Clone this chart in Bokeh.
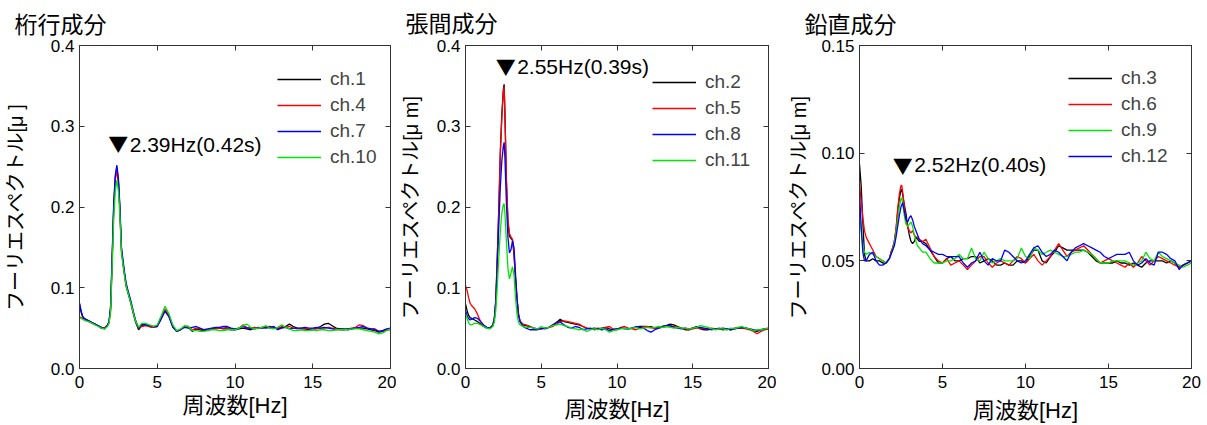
import numpy as np
from bokeh.plotting import figure
from bokeh.models import (Range1d, FixedTicker, PrintfTickFormatter, LinearAxis,
                          Legend, LegendItem, Label)
from bokeh.layouts import row
from bokeh.embed import file_html
from bokeh.resources import INLINE

# ---------------- data ----------------
# frequency samples [Hz]
freq = ([0.0, 0.1, 0.2, 0.3, 0.4, 0.6, 0.8, 1.0, 1.2, 1.4, 1.6, 1.8,
         1.9, 2.0, 2.1, 2.2, 2.3, 2.4, 2.5, 2.55, 2.6, 2.7, 2.8, 2.9,
         3.0, 3.1, 3.2, 3.3, 3.4, 3.5, 3.6, 3.8]
        + [4.0 + 0.25 * i for i in range(65)])

# 桁行成分
ch1 = [0.080, 0.070, 0.064, 0.062, 0.061,
       0.059, 0.057, 0.055, 0.053, 0.050, 0.050, 0.054,
       0.058, 0.074, 0.135, 0.200, 0.236, 0.249, 0.232,
       0.216,
       0.195, 0.146, 0.130, 0.115, 0.102, 0.095, 0.088, 0.081, 0.073, 0.065, 0.058,
       0.048,
       0.053, 0.054, 0.052, 0.051,
       0.053, 0.063, 0.073, 0.065,
       0.052, 0.046, 0.048, 0.052,
       0.051, 0.046, 0.049, 0.048,
       0.047, 0.048, 0.049, 0.050,
       0.050, 0.049, 0.049, 0.048,
       0.048, 0.049, 0.050, 0.049,
       0.048, 0.050, 0.051, 0.050,
       0.051, 0.052, 0.050, 0.049,
       0.051, 0.052, 0.055, 0.052,
       0.050, 0.049, 0.049, 0.048,
       0.048, 0.050, 0.052, 0.055,
       0.056, 0.053, 0.050, 0.049,
       0.049, 0.048, 0.049, 0.050,
       0.050, 0.050, 0.049, 0.048,
       0.047, 0.045, 0.046, 0.048,
       0.049]
ch4 = [0.064, 0.063, 0.062, 0.061, 0.060,
       0.058, 0.056, 0.055, 0.053, 0.051, 0.050, 0.053,
       0.057, 0.072, 0.132, 0.196, 0.233, 0.246, 0.230,
       0.214,
       0.193, 0.146, 0.130, 0.116, 0.103, 0.096, 0.089, 0.082, 0.074, 0.066, 0.059,
       0.050,
       0.052, 0.053, 0.052, 0.051,
       0.052, 0.062, 0.073, 0.066,
       0.052, 0.046, 0.048, 0.052,
       0.052, 0.048, 0.050, 0.049,
       0.048, 0.048, 0.049, 0.049,
       0.050, 0.050, 0.051, 0.049,
       0.048, 0.050, 0.054, 0.051,
       0.050, 0.051, 0.050, 0.051,
       0.052, 0.050, 0.051, 0.050,
       0.052, 0.051, 0.052, 0.050,
       0.049, 0.050, 0.049, 0.049,
       0.049, 0.049, 0.050, 0.050,
       0.051, 0.050, 0.049, 0.048,
       0.048, 0.049, 0.050, 0.051,
       0.054, 0.053, 0.050, 0.049,
       0.048, 0.046, 0.047, 0.048,
       0.048]
ch7 = [0.081, 0.072, 0.065, 0.062, 0.061,
       0.059, 0.057, 0.055, 0.053, 0.051, 0.049, 0.053,
       0.058, 0.078, 0.140, 0.205, 0.239, 0.252, 0.236,
       0.220,
       0.199, 0.150, 0.134, 0.119, 0.106, 0.098, 0.091, 0.084, 0.076, 0.068, 0.060,
       0.050,
       0.055, 0.054, 0.053, 0.052,
       0.052, 0.061, 0.071, 0.064,
       0.051, 0.046, 0.048, 0.051,
       0.050, 0.051, 0.052, 0.050,
       0.048, 0.049, 0.050, 0.051,
       0.051, 0.052, 0.052, 0.050,
       0.049, 0.050, 0.052, 0.050,
       0.050, 0.049, 0.050, 0.051,
       0.050, 0.051, 0.052, 0.048,
       0.050, 0.051, 0.049, 0.050,
       0.050, 0.050, 0.051, 0.050,
       0.050, 0.051, 0.050, 0.051,
       0.050, 0.049, 0.048, 0.049,
       0.048, 0.049, 0.049, 0.050,
       0.051, 0.052, 0.050, 0.049,
       0.049, 0.046, 0.047, 0.049,
       0.050]
ch10 = [0.063, 0.062, 0.061, 0.060, 0.059,
        0.058, 0.056, 0.054, 0.052, 0.050, 0.049, 0.052,
        0.056, 0.070, 0.125, 0.185, 0.219, 0.233, 0.220,
        0.206,
        0.188, 0.143, 0.128, 0.114, 0.102, 0.095, 0.088, 0.081, 0.074, 0.066, 0.059,
        0.051,
        0.056, 0.056, 0.054, 0.052,
        0.054, 0.065, 0.077, 0.068,
        0.054, 0.047, 0.049, 0.053,
        0.052, 0.047, 0.047, 0.046,
        0.046, 0.047, 0.048, 0.048,
        0.047, 0.047, 0.048, 0.048,
        0.048, 0.050, 0.053, 0.055,
        0.051, 0.049, 0.050, 0.051,
        0.053, 0.050, 0.049, 0.051,
        0.054, 0.051, 0.049, 0.047,
        0.047, 0.048, 0.047, 0.047,
        0.048, 0.047, 0.048, 0.048,
        0.047, 0.047, 0.048, 0.048,
        0.048, 0.048, 0.049, 0.049,
        0.049, 0.048, 0.047, 0.046,
        0.045, 0.043, 0.044, 0.047,
        0.049]

# 張間成分
ch2 = [0.080, 0.072, 0.066, 0.063, 0.062,
       0.060, 0.058, 0.055, 0.052, 0.050, 0.050, 0.054,
       0.062, 0.085, 0.140, 0.200, 0.270, 0.315, 0.346,
       0.352,
       0.318, 0.232, 0.182, 0.164, 0.161, 0.159, 0.142, 0.110, 0.085, 0.066, 0.058,
       0.054,
       0.053, 0.052, 0.050, 0.049,
       0.049, 0.050, 0.051, 0.053,
       0.057, 0.061, 0.058, 0.057,
       0.056, 0.055, 0.054, 0.052,
       0.050, 0.049, 0.050, 0.049,
       0.050, 0.051, 0.049, 0.048,
       0.049, 0.050, 0.050, 0.049,
       0.050, 0.051, 0.052, 0.052,
       0.051, 0.052, 0.050, 0.051,
       0.052, 0.053, 0.055, 0.054,
       0.052, 0.050, 0.048, 0.048,
       0.050, 0.052, 0.049, 0.048,
       0.048, 0.049, 0.049, 0.049,
       0.048, 0.049, 0.048, 0.049,
       0.050, 0.050, 0.050, 0.049,
       0.047, 0.046, 0.048, 0.049,
       0.049]
ch5 = [0.103, 0.097, 0.088, 0.081, 0.078,
       0.074, 0.067, 0.058, 0.053, 0.051, 0.050, 0.053,
       0.060, 0.083, 0.137, 0.197, 0.266, 0.312, 0.343,
       0.349,
       0.316, 0.234, 0.185, 0.167, 0.163, 0.160, 0.144, 0.112, 0.087, 0.068, 0.059,
       0.055,
       0.054, 0.052, 0.050, 0.049,
       0.049, 0.050, 0.051, 0.052,
       0.055, 0.058, 0.059, 0.058,
       0.057, 0.056, 0.055, 0.052,
       0.050, 0.049, 0.049, 0.050,
       0.049, 0.051, 0.052, 0.049,
       0.048, 0.051, 0.052, 0.050,
       0.049, 0.048, 0.050, 0.052,
       0.052, 0.051, 0.049, 0.050,
       0.051, 0.052, 0.053, 0.052,
       0.051, 0.050, 0.049, 0.048,
       0.049, 0.050, 0.050, 0.049,
       0.049, 0.050, 0.049, 0.050,
       0.049, 0.048, 0.049, 0.050,
       0.051, 0.050, 0.049, 0.048,
       0.046, 0.043, 0.046, 0.048,
       0.049]
ch8 = [0.072, 0.066, 0.062, 0.060, 0.061,
       0.063, 0.062, 0.058, 0.054, 0.051, 0.050, 0.053,
       0.060, 0.082, 0.128, 0.178, 0.225, 0.258, 0.276,
       0.280,
       0.262, 0.205, 0.163, 0.143, 0.147, 0.158, 0.150, 0.118, 0.087, 0.066, 0.058,
       0.052,
       0.050, 0.048, 0.048, 0.048,
       0.050, 0.049, 0.051, 0.054,
       0.057, 0.058, 0.054, 0.051,
       0.050, 0.052, 0.051, 0.048,
       0.049, 0.050, 0.048, 0.049,
       0.048, 0.049, 0.047, 0.048,
       0.049, 0.050, 0.049, 0.049,
       0.050, 0.052, 0.051, 0.050,
       0.047, 0.045, 0.048, 0.050,
       0.052, 0.053, 0.053, 0.051,
       0.050, 0.049, 0.050, 0.049,
       0.050, 0.051, 0.051, 0.050,
       0.049, 0.048, 0.049, 0.049,
       0.050, 0.049, 0.048, 0.049,
       0.050, 0.051, 0.050, 0.049,
       0.048, 0.047, 0.048, 0.049,
       0.050]
ch11 = [0.068, 0.062, 0.057, 0.054, 0.054,
        0.056, 0.056, 0.054, 0.052, 0.050, 0.049, 0.052,
        0.057, 0.072, 0.102, 0.138, 0.170, 0.193, 0.203,
        0.204,
        0.193, 0.158, 0.124, 0.111, 0.118, 0.126, 0.116, 0.088, 0.067, 0.057, 0.054,
        0.052,
        0.051, 0.051, 0.050, 0.049,
        0.052, 0.050, 0.051, 0.053,
        0.054, 0.055, 0.053, 0.052,
        0.050, 0.049, 0.048, 0.049,
        0.046, 0.048, 0.049, 0.048,
        0.050, 0.048, 0.045, 0.047,
        0.048, 0.049, 0.050, 0.049,
        0.050, 0.051, 0.049, 0.050,
        0.051, 0.050, 0.051, 0.052,
        0.051, 0.052, 0.051, 0.050,
        0.051, 0.050, 0.050, 0.049,
        0.050, 0.051, 0.053, 0.052,
        0.051, 0.049, 0.048, 0.049,
        0.049, 0.048, 0.050, 0.049,
        0.051, 0.052, 0.050, 0.049,
        0.047, 0.048, 0.048, 0.049,
        0.050]

# 鉛直成分
ch3 = [0.095, 0.085, 0.068, 0.053, 0.050,
       0.050, 0.051, 0.050, 0.050, 0.049, 0.049, 0.051,
       0.054, 0.056, 0.059, 0.064, 0.073, 0.079, 0.083,
       0.083,
       0.081, 0.076, 0.072, 0.066, 0.062, 0.059, 0.058, 0.059, 0.061, 0.060, 0.059,
       0.059,
       0.058, 0.055, 0.052, 0.049,
       0.049, 0.051, 0.052, 0.050,
       0.050, 0.051, 0.051, 0.052,
       0.052, 0.049, 0.050, 0.051,
       0.050, 0.048, 0.048, 0.049,
       0.048, 0.048, 0.050, 0.050,
       0.049, 0.052, 0.055, 0.055,
       0.050, 0.049, 0.052, 0.054,
       0.057, 0.056, 0.055, 0.055,
       0.055, 0.055, 0.055, 0.054,
       0.052, 0.050, 0.049, 0.049,
       0.049, 0.049, 0.050, 0.049,
       0.049, 0.048, 0.049, 0.048,
       0.047, 0.049, 0.050, 0.050,
       0.050, 0.050, 0.049, 0.050,
       0.049, 0.047, 0.048, 0.049,
       0.050]
ch6 = [0.086, 0.078, 0.070, 0.064, 0.061,
       0.058, 0.055, 0.052, 0.051, 0.050, 0.049, 0.051,
       0.054, 0.056, 0.059, 0.065, 0.074, 0.081, 0.085,
       0.085,
       0.082, 0.075, 0.069, 0.066, 0.064, 0.063, 0.064, 0.062, 0.061, 0.061, 0.060,
       0.059,
       0.060, 0.056, 0.052, 0.050,
       0.049, 0.051, 0.048, 0.049,
       0.050, 0.048, 0.046, 0.048,
       0.050, 0.052, 0.052, 0.049,
       0.047, 0.049, 0.050, 0.049,
       0.048, 0.050, 0.052, 0.051,
       0.049, 0.051, 0.053, 0.050,
       0.048, 0.050, 0.052, 0.055,
       0.058, 0.055, 0.052, 0.054,
       0.055, 0.056, 0.057, 0.055,
       0.053, 0.051, 0.049, 0.050,
       0.051, 0.050, 0.049, 0.048,
       0.047, 0.049, 0.047, 0.049,
       0.052, 0.050, 0.048, 0.050,
       0.052, 0.051, 0.050, 0.049,
       0.048, 0.047, 0.048, 0.049,
       0.050]
ch9 = [0.073, 0.064, 0.057, 0.054, 0.053,
       0.054, 0.053, 0.052, 0.051, 0.050, 0.049, 0.051,
       0.053, 0.055, 0.058, 0.063, 0.069, 0.075, 0.079,
       0.079,
       0.077, 0.071, 0.067, 0.066, 0.067, 0.068, 0.066, 0.062, 0.059, 0.057, 0.056,
       0.054,
       0.054, 0.051, 0.049, 0.049,
       0.049, 0.050, 0.050, 0.051,
       0.053, 0.051, 0.051, 0.056,
       0.051, 0.050, 0.054, 0.051,
       0.049, 0.050, 0.051, 0.050,
       0.050, 0.050, 0.051, 0.056,
       0.052, 0.051, 0.056, 0.055,
       0.053, 0.054, 0.055, 0.054,
       0.053, 0.052, 0.052, 0.053,
       0.054, 0.054, 0.055, 0.054,
       0.053, 0.051, 0.049, 0.049,
       0.049, 0.050, 0.050, 0.050,
       0.050, 0.049, 0.048, 0.049,
       0.050, 0.054, 0.051, 0.050,
       0.054, 0.052, 0.051, 0.050,
       0.049, 0.048, 0.047, 0.048,
       0.049]
ch12 = [0.082, 0.066, 0.054, 0.050, 0.050,
        0.053, 0.054, 0.050, 0.048, 0.048, 0.049, 0.051,
        0.053, 0.055, 0.057, 0.061, 0.066, 0.071, 0.075,
        0.076,
        0.077, 0.073, 0.069, 0.068, 0.070, 0.071, 0.069, 0.066, 0.064, 0.062, 0.060,
        0.058,
        0.057, 0.055, 0.054, 0.053,
        0.053, 0.052, 0.052, 0.052,
        0.052, 0.049, 0.047, 0.049,
        0.050, 0.054, 0.050, 0.048,
        0.051, 0.050, 0.050, 0.055,
        0.054, 0.052, 0.050, 0.049,
        0.050, 0.053, 0.056, 0.057,
        0.054, 0.052, 0.053, 0.055,
        0.054, 0.052, 0.050, 0.054,
        0.056, 0.057, 0.058, 0.057,
        0.056, 0.055, 0.054, 0.052,
        0.051, 0.052, 0.053, 0.053,
        0.053, 0.054, 0.050, 0.048,
        0.049, 0.051, 0.049, 0.048,
        0.054, 0.054, 0.053, 0.051,
        0.050, 0.046, 0.048, 0.049,
        0.050]

titles = ["桁行成分", "張間成分", "鉛直成分"]
ylabels = ["フーリエスペクトル[μ ]", "フーリエスペクトル[μ m]", "フーリエスペクトル[μ m]"]
xlabel = "周波数[Hz]"
x_ticks = [0, 5, 10, 15, 20]
y_ticks = [[0.0, 0.1, 0.2, 0.3, 0.4], [0.0, 0.1, 0.2, 0.3, 0.4], [0.0, 0.05, 0.10, 0.15]]
y_formats = ["%.1f", "%.1f", "%.2f"]
y_max = [0.4, 0.4, 0.15]
peak_freq = [2.39, 2.55, 2.52]
peak_text = ["2.39Hz(0.42s)", "2.55Hz(0.39s)", "2.52Hz(0.40s)"]
series = [
    [("ch.1", ch1, "#000000"), ("ch.4", ch4, "#ff0000"), ("ch.7", ch7, "#0000ff"), ("ch.10", ch10, "#00e600")],
    [("ch.2", ch2, "#000000"), ("ch.5", ch5, "#ff0000"), ("ch.8", ch8, "#0000ff"), ("ch.11", ch11, "#00e600")],
    [("ch.3", ch3, "#000000"), ("ch.6", ch6, "#ff0000"), ("ch.9", ch9, "#00e600"), ("ch.12", ch12, "#0000ff")],
]

for grp in series:
    for name, ys, _ in grp:
        assert len(ys) == len(freq), (name, len(ys), len(freq))

# ---------------- layout / style ----------------
JP = "Noto Sans CJK JP"
LAT = "Liberation Sans"
MIX = LAT + ", " + JP
# (border_left, frame_w, border_right, border_top, frame_h, border_bottom)
geoms = [(79, 311, 6, 43, 326, 56), (66, 306, 8, 44, 324, 57), (83, 332, 11, 43, 325, 57)]
title_offset = [-65, -60, -55]
title_standoff = [7, 9, 8]
ylabel_standoff = [21, 12, 8]
xlabel_standoff = [2, 6, 7]
tri_sy = [225.5, 302.5, 203.5]
txt_sy = [224.5, 302.5, 204.0]
legend_pos = [(198, 200), (187, 197), (209, 201)]

AX = "#333333"


def style_axis(ax, ticks, fmt=None, labels=True):
    ax.ticker = FixedTicker(ticks=ticks)
    if fmt:
        ax.formatter = PrintfTickFormatter(format=fmt)
    ax.major_tick_in = 5
    ax.major_tick_out = 0
    ax.minor_tick_line_color = None
    ax.axis_line_color = AX
    ax.major_tick_line_color = AX
    if labels:
        ax.major_label_text_font = LAT
        ax.major_label_text_font_size = "17px"
        ax.major_label_text_color = "black"
        ax.major_label_standoff = 5
    else:
        ax.major_label_text_font_size = "1px"
        ax.major_label_text_color = None
        ax.major_label_standoff = 0


plots = []
for i in range(3):
    bl, fw, br, bt, fh, bb = geoms[i]
    p = figure(width=bl + fw + br, height=bt + fh + bb,
               x_range=Range1d(0, 20), y_range=Range1d(0, y_max[i]),
               output_backend="svg", toolbar_location=None,
               min_border_left=bl, min_border_right=br,
               min_border_top=bt, min_border_bottom=bb)
    p.xgrid.visible = False
    p.ygrid.visible = False
    p.outline_line_color = AX
    p.background_fill_color = "white"
    p.border_fill_color = "white"

    # main title
    p.title.text = titles[i]
    p.title.align = "left"
    p.title.offset = title_offset[i]
    p.title.vertical_align = "top"
    p.title.standoff = title_standoff[i]
    p.title.text_font = JP
    p.title.text_font_size = "23px"
    p.title.text_font_style = "normal"
    p.title.text_color = "black"

    xa = p.xaxis[0]
    style_axis(xa, x_ticks)
    xa.major_label_standoff = 7
    xa.axis_label = xlabel
    xa.axis_label_text_font = MIX
    xa.axis_label_text_font_size = "22px"
    xa.axis_label_text_font_style = "normal"
    xa.axis_label_text_color = "black"
    xa.axis_label_standoff = xlabel_standoff[i]

    ya = p.yaxis[0]
    style_axis(ya, y_ticks[i], y_formats[i])
    ya.axis_label = ylabels[i]
    ya.axis_label_text_font = MIX
    ya.axis_label_text_font_size = "20px"
    ya.axis_label_text_font_style = "normal"
    ya.axis_label_text_color = "black"
    ya.axis_label_standoff = ylabel_standoff[i]

    ra = LinearAxis()
    style_axis(ra, y_ticks[i], labels=False)
    p.add_layout(ra, "right")
    ta = LinearAxis()
    style_axis(ta, x_ticks, labels=False)
    p.add_layout(ta, "above")

    items = []
    for name, ys, col in series[i]:
        r = p.line(freq, ys, line_color=col, line_width=1.3)
        items.append(LegendItem(label=name, renderers=[r]))
    leg = Legend(items=items, location=legend_pos[i], padding=0, spacing=4,
                 glyph_width=44, glyph_height=20, label_height=20, label_standoff=9,
                 label_text_font=LAT, label_text_font_size="19px",
                 border_line_color=None, background_fill_alpha=0)
    p.add_layout(leg)

    # peak marker and text
    p.add_layout(Label(x=peak_freq[i], y=tri_sy[i], x_units="data", y_units="screen",
                       x_offset=1.5, text="▼", text_font=JP, text_font_size="20px",
                       text_align="center", text_baseline="middle", text_color="black"))
    p.add_layout(Label(x=peak_freq[i], y=txt_sy[i], x_units="data", y_units="screen",
                       x_offset=13, text=peak_text[i], text_font=LAT, text_font_size="21px",
                       text_align="left", text_baseline="middle", text_color="black"))
    plots.append(p)

layout = row(*plots)
open("out.html", "w").write(file_html(layout, INLINE))
